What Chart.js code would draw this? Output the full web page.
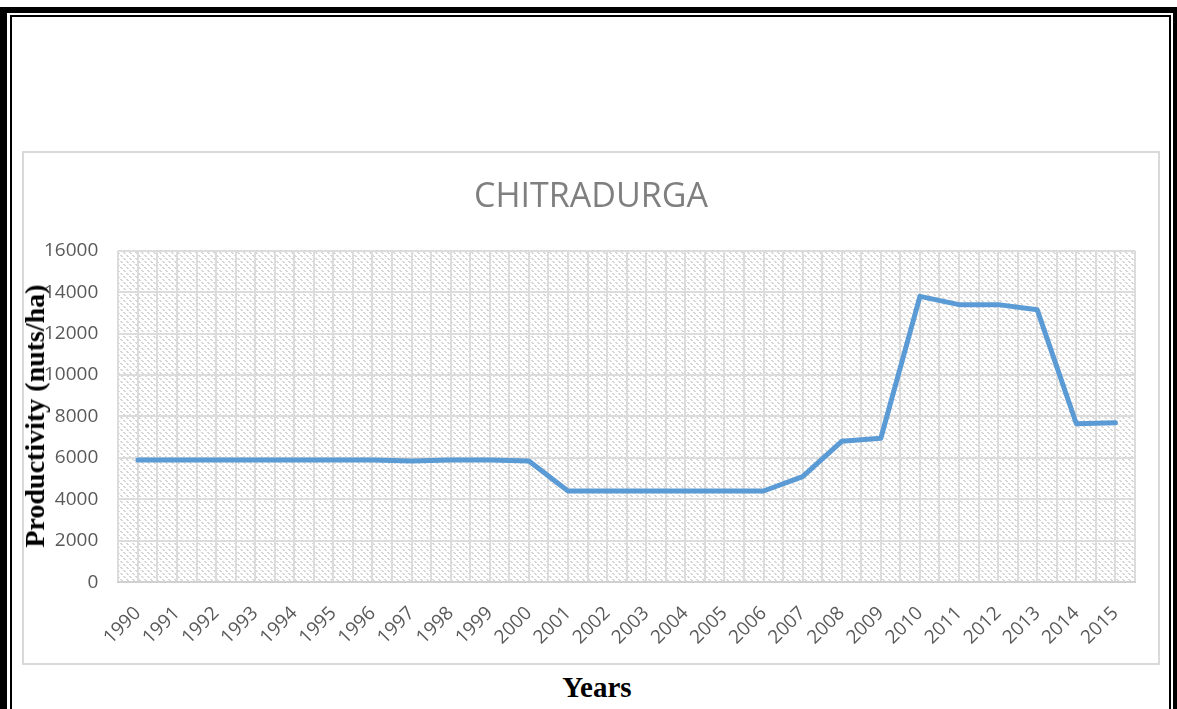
<!DOCTYPE html>
<html>
<head>
<meta charset="utf-8">
<script src="https://cdn.jsdelivr.net/npm/chart.js@4/dist/chart.umd.min.js"></script>
<style>
  html, body { margin: 0; padding: 0; background: #fff; width: 1177px; height: 709px; overflow: hidden; }
  .frame-outer { position: absolute; left: 0; top: 7px; width: 1166px; height: 800px;
    border-left: 7px solid #000; border-top: 6px solid #000; border-right: 7px solid #000; }
  .frame-inner { position: absolute; left: 10px; top: 15px; width: 1157px; height: 800px;
    border-left: 2px solid #000; border-top: 2px solid #000; border-right: 2px solid #000; }
  .chart-box { position: absolute; left: 22px; top: 151px; width: 1134px; height: 510px;
    border: 2px solid #d9d9d9; background: #fff; }
  .y-title { position: absolute; left: 35px; top: 416px; transform: translate(-50%, -50%) rotate(-90deg);
    font: bold 28px "Liberation Serif", "Times New Roman", serif; color: #000; white-space: nowrap; }
  .x-title { position: absolute; left: 597px; top: 687px; transform: translate(-50%, -50%);
    font: bold 29px "Liberation Serif", "Times New Roman", serif; color: #000; white-space: nowrap; }
</style>
</head>
<body>
<div class="frame-outer"></div>
<div class="frame-inner"></div>
<div class="chart-box"><canvas id="lineChart" width="1134" height="510"></canvas></div>
<div class="y-title">Productivity (nuts/ha)</div>
<div class="x-title">Years</div>

<script>
// Dữ liệu năng suất
const years = ["1990", "1991", "1992", "1993", "1994", "1995", "1996", "1997", "1998", "1999",
  "2000", "2001", "2002", "2003", "2004", "2005", "2006", "2007", "2008", "2009",
  "2010", "2011", "2012", "2013", "2014", "2015"];
const productivity = [5900, 5900, 5900, 5900, 5900, 5900, 5900, 5850, 5900, 5900,
  5850, 4400, 4400, 4400, 4400, 4400, 4400, 5100, 6800, 6950,
  13800, 13400, 13400, 13150, 7650, 7700];
const yMin = 0, yMax = 16000, yStep = 2000;

// Nền gạch chéo cho vùng vẽ
function makeHatch() {
  const c = document.createElement("canvas");
  c.width = 6; c.height = 6;
  const g = c.getContext("2d");
  g.fillStyle = "#ffffff";
  g.fillRect(0, 0, 6, 6);
  g.fillStyle = "#d6d6d6";
  for (let i = 0; i < 6; i += 1) {
    if (i % 3 !== 2) g.fillRect(i, i, 2, 1);
  }
  return g.createPattern(c, "repeat");
}

const hatchPlugin = {
  id: "hatch",
  beforeDraw(chart) {
    const { ctx, chartArea: a } = chart;
    ctx.save();
    ctx.fillStyle = makeHatch();
    ctx.fillRect(a.left, a.top, a.right - a.left, a.bottom - a.top);
    ctx.restore();
  },
};

const gridColor = "#dcdcdc";

new Chart(document.getElementById("lineChart"), {
  type: "line",
  data: {
    labels: years,
    datasets: [
      {
        data: productivity,
        borderColor: "#5b9bd5",
        borderWidth: 5,
        pointRadius: 0,
        tension: 0,
        borderJoinStyle: "round",
        borderCapStyle: "round",
      },
    ],
  },
  options: {
    responsive: false,
    animation: false,
    layout: { padding: { left: 0, right: 0, bottom: -6, top: 0 } },
    plugins: {
      legend: { display: false },
      tooltip: { enabled: false },
      title: {
        display: true,
        text: "CHITRADURGA",
        color: "#7f7f7f",
        font: { family: "'Open Sans'", size: 34, weight: "normal" },
        padding: { top: 24, bottom: 33 },
      },
    },
    scales: {
      x: {
        offset: true,
        grid: { offset: true, color: gridColor, lineWidth: 2, drawTicks: false },
        border: { display: true, color: "#d0d0d0", width: 2 },
        ticks: {
          color: "#595959",
          font: { family: "'Open Sans'", size: 19 },
          minRotation: 45,
          maxRotation: 45,
          padding: 20,
          autoSkip: false,
        },
      },
      x2: {
        type: "category",
        labels: years,
        position: "bottom",
        offset: true,
        grid: { offset: false, color: gridColor, lineWidth: 2, drawTicks: false },
        border: { display: false },
        ticks: { display: false },
      },
      y: {
        min: yMin,
        max: yMax,
        grid: { color: gridColor, lineWidth: 2, drawTicks: false },
        border: { display: false },
        ticks: {
          stepSize: yStep,
          color: "#595959",
          font: { family: "'Open Sans'", size: 19 },
          padding: 20,
          callback: (v) => String(v),
        },
      },
      // khoảng trống bên phải vùng vẽ
      yRight: {
        position: "right",
        min: yMin,
        max: yMax,
        grid: { display: false, drawTicks: false },
        border: { display: false },
        ticks: { display: false },
        afterFit(scale) { scale.width = 23; },
      },
    },
  },
  plugins: [hatchPlugin],
});
</script>
</body>
</html>
